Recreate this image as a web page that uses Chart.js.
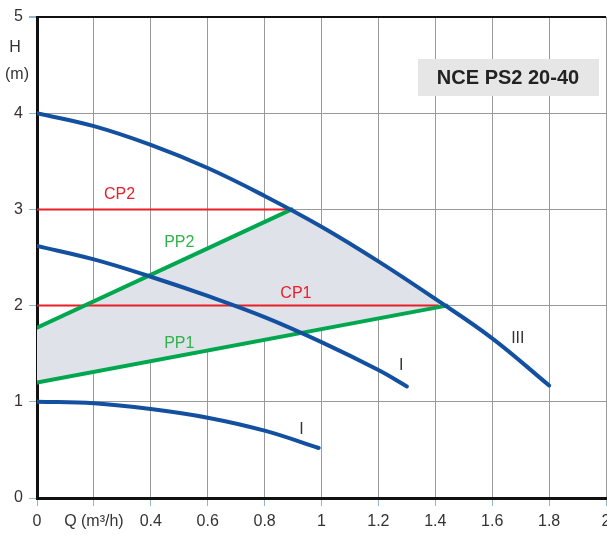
<!DOCTYPE html>
<html>
<head>
<meta charset="utf-8">
<script src="https://cdn.jsdelivr.net/npm/chart.js@4.4.0/dist/chart.umd.min.js"></script>
<style>
  html, body { margin: 0; padding: 0; background: #fff; overflow: hidden; }
  #wrap { width: 625px; height: 535px; }
</style>
</head>
<body>
<div id="wrap"><canvas id="chart" width="625" height="535"></canvas></div>
<script>
// pump curves, Q in m3/h, H in m
const curveIIIQ = [0, 0.2, 0.4, 0.6, 0.8, 1.0, 1.2, 1.4, 1.6, 1.8];
const curveIIIH = [4.0, 3.865, 3.67, 3.43, 3.14, 2.82, 2.46, 2.07, 1.66, 1.17];

const curveMidQ = [0, 0.2, 0.4, 0.6, 0.8, 1.0, 1.2, 1.3];
const curveMidH = [2.62, 2.48, 2.3, 2.1, 1.88, 1.62, 1.33, 1.16];

const curveLowQ = [0, 0.2, 0.4, 0.6, 0.8, 0.99];
const curveLowH = [1.0, 0.985, 0.925, 0.835, 0.7, 0.52];

// control lines
const pp1Q = [0, 1.44];
const pp1H = [1.2, 2.0];
const pp2Q = [0, 0.895];
const pp2H = [1.77, 3.0];
const cp1Q = [0, 1.41];
const cp1H = [2.0, 2.0];
const cp2Q = [0, 0.895];
const cp2H = [3.0, 3.0];

// axis ticks
const xTickValues = [0, 0.2, 0.4, 0.6, 0.8, 1, 1.2, 1.4, 1.6, 1.8, 2];
const xTickLabels = ["0", "Q (m³/h)", "0.4", "0.6", "0.8", "1", "1.2", "1.4", "1.6", "1.8", "2"];
const yTickValues = [0, 1, 2, 3, 4, 5];
const yTickLabels = ["0", "1", "2", "3", "4", "5"];

// text labels placed in data coords
const labelText = ["CP2", "PP2", "CP1", "PP1", "I", "III", "I"];
const labelQ = [0.29, 0.5, 0.91, 0.5, 1.28, 1.69, 0.93];
const labelH = [3.15, 2.65, 2.13, 1.61, 1.38, 1.66, 0.71];
const labelColor = ["#e8202a", "#2fb34a", "#e8202a", "#2fb34a", "#333", "#333", "#333"];

function pts(qs, hs) {
  return qs.map(function (q, i) { return { x: q, y: hs[i] }; });
}

// shaded working area: PP2 up to curve III, along III, back along PP1
var areaPts = pts(pp2Q, pp2H);
curveIIIQ.forEach(function (q, i) {
  if (q > pp2Q[1] && q < pp1Q[1]) areaPts.push({ x: q, y: curveIIIH[i] });
});
areaPts = areaPts.concat(pts(pp1Q, pp1H).reverse());

const blue = "#1450a0";
const green = "#00a74f";
const red = "#e8202a";

function lineSet(data, color, width, smooth) {
  return {
    data: data,
    borderColor: color,
    borderWidth: width,
    showLine: true,
    pointRadius: 0,
    fill: false,
    borderCapStyle: "round",
    tension: smooth ? 0.4 : 0,
    order: 1
  };
}

const textPlugin = {
  id: "texts",
  afterDatasetsDraw: function (chart) {
    var ctx = chart.ctx;
    var xs = chart.scales.x, ys = chart.scales.y;
    ctx.save();
    ctx.textAlign = "center";
    ctx.textBaseline = "middle";
    ctx.font = "16px 'Liberation Sans', Arial, sans-serif";
    labelText.forEach(function (t, i) {
      ctx.fillStyle = labelColor[i];
      ctx.fillText(t, xs.getPixelForValue(labelQ[i]), ys.getPixelForValue(labelH[i]));
    });
    // model box
    ctx.fillStyle = "#e6e6e6";
    ctx.fillRect(418, 59, 181, 37);
    ctx.fillStyle = "#222";
    ctx.font = "bold 20px 'Liberation Sans', Arial, sans-serif";
    ctx.fillText("NCE PS2 20-40", 508, 78);
    // y axis title
    ctx.fillStyle = "#333";
    ctx.font = "16px 'Liberation Sans', Arial, sans-serif";
    ctx.fillText("H", 15, 48);
    ctx.fillText("(m)", 17, 75);
    ctx.restore();
  }
};

new Chart(document.getElementById("chart"), {
  type: "scatter",
  data: {
    datasets: [
      lineSet(pts(curveIIIQ, curveIIIH), blue, 4, true),
      lineSet(pts(curveMidQ, curveMidH), blue, 4, true),
      lineSet(pts(curveLowQ, curveLowH), blue, 4, true),
      lineSet(pts(pp1Q, pp1H), green, 4, false),
      lineSet(pts(pp2Q, pp2H), green, 4, false),
      lineSet(pts(cp1Q, cp1H), red, 2, false),
      lineSet(pts(cp2Q, cp2H), red, 2, false),
      {
        data: areaPts,
        showLine: true,
        borderWidth: 0,
        borderColor: "rgba(0,0,0,0)",
        backgroundColor: "#dfe2e8",
        pointRadius: 0,
        fill: "shape",
        order: 5
      }
    ]
  },
  plugins: [textPlugin],
  options: {
    responsive: false,
    animation: false,
    layout: { padding: { top: 17, right: 19, left: 0, bottom: 0 } },
    plugins: { legend: { display: false }, tooltip: { enabled: false } },
    scales: {
      x: {
        type: "linear",
        min: 0,
        max: 2,
        afterBuildTicks: function (scale) {
          scale.ticks = xTickValues.map(function (v) { return { value: v }; });
        },
        afterFit: function (scale) { scale.height = 37; },
        ticks: {
          padding: 6,
          color: "#333",
          font: { size: 16, family: "'Liberation Sans', Arial, sans-serif" },
          maxRotation: 0,
          autoSkip: false,
          callback: function (v) {
            var i = xTickValues.findIndex(function (t) { return Math.abs(t - v) < 1e-6; });
            return i >= 0 ? xTickLabels[i] : "";
          }
        },
        grid: {
          color: "#9a9a9a",
          lineWidth: 1,
          tickLength: 8,
          tickColor: "#8fb8cc"
        },
        border: { color: "#111", width: 3 }
      },
      y: {
        type: "linear",
        min: 0,
        max: 5,
        afterBuildTicks: function (scale) {
          scale.ticks = yTickValues.map(function (v) { return { value: v }; });
        },
        afterFit: function (scale) { scale.width = 37; },
        ticks: {
          padding: 6,
          color: "#333",
          font: { size: 16, family: "'Liberation Sans', Arial, sans-serif" },
          callback: function (v) {
            var i = yTickValues.indexOf(v);
            return i >= 0 ? yTickLabels[i] : "";
          }
        },
        grid: {
          color: function (c) { return c.tick && c.tick.value === 5 ? "#111" : "#9a9a9a"; },
          lineWidth: function (c) { return c.tick && c.tick.value === 5 ? 2 : 1; },
          tickLength: 8,
          tickColor: "#8fb8cc"
        },
        border: { color: "#111", width: 3 }
      }
    }
  }
});
</script>
</body>
</html>
